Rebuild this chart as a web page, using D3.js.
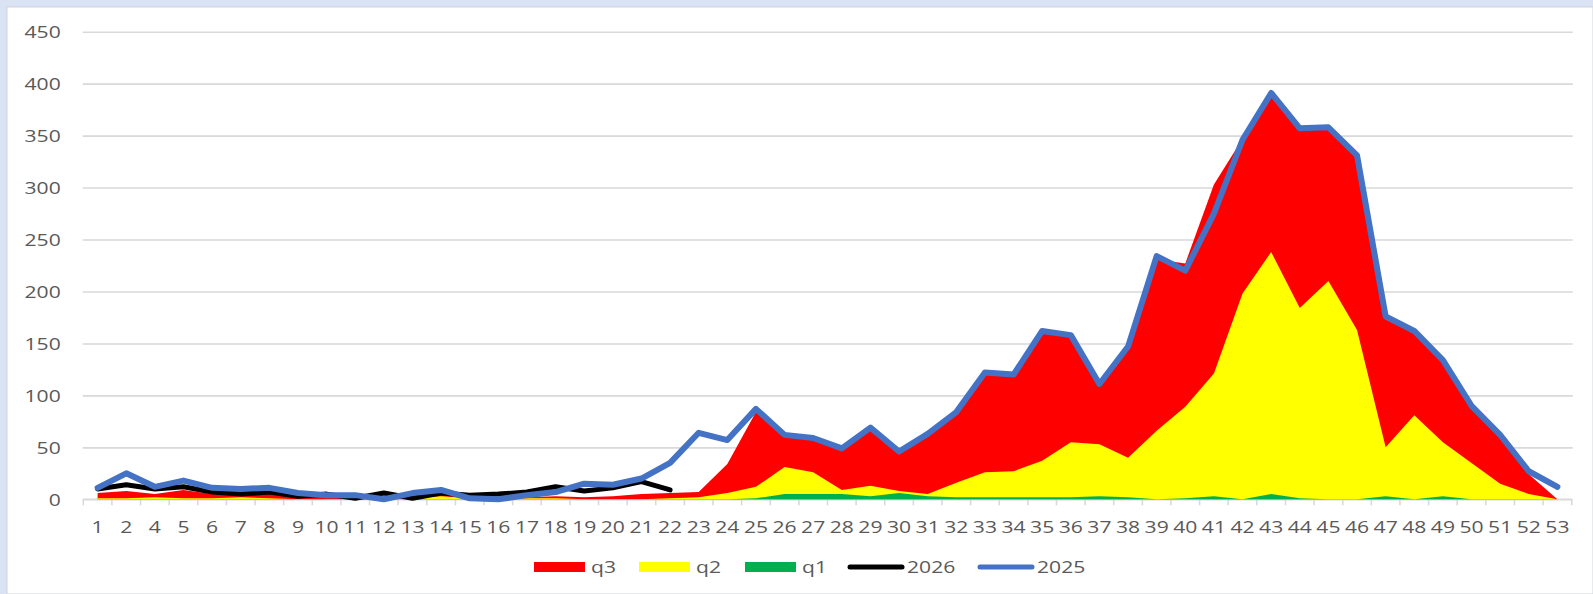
<!DOCTYPE html>
<html>
<head>
<meta charset="UTF-8">
<title>weekly chart</title>
<script src="https://cdnjs.cloudflare.com/ajax/libs/d3/7.8.5/d3.min.js"></script>
<style>
  body { margin: 0; background: #dae3f3; }
  svg { display: block; }
  text { font-family: "Open Sans", sans-serif; fill: #595959; }
</style>
</head>
<body>
<script>
// week labels (3 is missing in the source chart)
var weeks = ["1","2","4","5","6","7","8","9","10","11","12","13","14","15","16","17","18","19","20","21","22","23","24","25","26","27","28","29","30","31","32","33","34","35","36","37","38","39","40","41","42","43","44","45","46","47","48","49","50","51","52","53"];

var q3 = [6,8,5,9,5,8,6,3,3,2,1,3,5,2,2,2,3,2,3,5,6,7,34,84,60,57,47,67,44,62,82,120,118,160,156,109,146,231,227,303,347,388,355,356,328,173,160,131,87,60,24,0];
var q2 = [1,1,2,1,1,2,1,0,0,0,0,1,3,1,0,1,1,0,0,0,1,2,6,12,31,26,9,13,8,5,16,26,27,37,55,53,40,66,89,121,198,238,184,210,163,50,81,55,35,15,5,0];
var q1 = [0,0,0,0,0,0,0,0,0,0,0,0,0,0,0,0,0,0,0,0,0,0,0,1,5,5,5,3,6,3,2,2,2,2,2,3,2,0,1,3,0,5,1,0,0,3,0,3,0,0,0,0];
var y2026 = [10,14,10,12,7,5,7,3,5,1,6,1,6,4,5,7,12,8,11,17,9];
var y2025 = [11,25,12,18,11,10,11,6,4,4,0,6,9,1,0,4,7,15,14,20,35,64,57,87,62,59,49,69,46,63,84,122,120,162,158,111,147,234,220,275,346,391,357,358,331,176,162,134,90,62,27,12];

var yTicks = [0,50,100,150,200,250,300,350,400,450];

var width = 1593, height = 594;
var plotL = 83.3, plotR = 1571.7, plotT = 31.7, plotB = 499.3;
var sx = 1.28; // source text is stretched horizontally

var svg = d3.select("body").append("svg")
    .attr("width", width)
    .attr("height", height);

svg.append("rect")
    .attr("x", 7).attr("y", 7)
    .attr("width", width - 7).attr("height", height - 7)
    .attr("fill", "#fff")
    .attr("stroke", "#d0d4da");

var x = d3.scaleBand().domain(weeks).range([plotL, plotR]);
var y = d3.scaleLinear().domain([0, 450]).range([plotB, plotT]);
var cx = function (i) { return x(weeks[i]) + x.bandwidth() / 2; };

// grid + y labels
var yAxis = svg.append("g")
    .attr("transform", "translate(" + (plotL - 0.6) + ",0)")
    .call(d3.axisLeft(y).tickValues(yTicks).tickSize(-(plotR - plotL + 1.6)).tickFormat(d3.format("d")));
yAxis.select(".domain").remove();
yAxis.selectAll("line").attr("stroke", "#d9d9d9").attr("stroke-width", 1.6);
yAxis.selectAll("text")
    .attr("x", 0).attr("dy", "0.36em")
    .attr("font-size", 16.5)
    .attr("text-anchor", "end")
    .attr("transform", "translate(-22,0) scale(" + sx + ",1)");

// x axis, labels centred in each week band
var xAxis = svg.append("g")
    .attr("transform", "translate(0," + plotB + ")")
    .call(d3.axisBottom(x).tickSize(0));
xAxis.select(".domain").remove();
xAxis.selectAll("text")
    .attr("x", 0).attr("y", 34).attr("dy", 0)
    .attr("font-size", 16.5)
    .attr("transform", "scale(" + sx + ",1)");
svg.append("line")
    .attr("x1", plotL).attr("x2", plotR)
    .attr("y1", plotB).attr("y2", plotB)
    .attr("stroke", "#d9d9d9").attr("stroke-width", 1.6);
svg.append("g").selectAll("line")
    .data(d3.range(weeks.length + 1))
    .enter().append("line")
    .attr("x1", function (k) { return plotL + k * x.step(); })
    .attr("x2", function (k) { return plotL + k * x.step(); })
    .attr("y1", plotB).attr("y2", plotB + 6)
    .attr("stroke", "#d9d9d9").attr("stroke-width", 1.6);

// areas, drawn over each other
var area = d3.area()
    .x(function (d, i) { return cx(i); })
    .y0(y(0))
    .y1(function (d) { return y(d); });

[[q3, "#ff0000"], [q2, "#ffff00"], [q1, "#00b050"]].forEach(function (s) {
    svg.append("path").datum(s[0]).attr("d", area).attr("fill", s[1]);
});

var line = d3.line()
    .x(function (d, i) { return cx(i); })
    .y(function (d) { return y(d); });

svg.append("path").datum(y2026).attr("d", line)
    .attr("fill", "none").attr("stroke", "#000").attr("stroke-width", 5)
    .attr("stroke-linejoin", "round").attr("stroke-linecap", "round");
svg.append("path").datum(y2025).attr("d", line)
    .attr("fill", "none").attr("stroke", "#4472c4").attr("stroke-width", 6)
    .attr("stroke-linejoin", "round").attr("stroke-linecap", "round");

// legend
var legend = [
    {name: "q3", color: "#ff0000", type: "rect", x: 534},
    {name: "q2", color: "#ffff00", type: "rect", x: 639},
    {name: "q1", color: "#00b050", type: "rect", x: 745},
    {name: "2026", color: "#000", type: "line", x: 848},
    {name: "2025", color: "#4472c4", type: "line", x: 978}
];
var lg = svg.append("g").selectAll("g").data(legend).enter().append("g")
    .attr("transform", function (d) { return "translate(" + d.x + ",567)"; });
lg.filter(function (d) { return d.type === "rect"; }).append("rect")
    .attr("x", 0).attr("y", -5).attr("width", 51).attr("height", 10)
    .attr("fill", function (d) { return d.color; });
lg.filter(function (d) { return d.type === "line"; }).append("line")
    .attr("x1", 2).attr("x2", 54).attr("y1", 0).attr("y2", 0)
    .attr("stroke", function (d) { return d.color; })
    .attr("stroke-width", 5).attr("stroke-linecap", "round");
lg.append("text")
    .attr("x", 0).attr("y", 6)
    .attr("font-size", 16.5)
    .attr("transform", function (d) { return "translate(" + (d.type === "rect" ? 57 : 59) + ",0) scale(" + sx + ",1)"; })
    .text(function (d) { return d.name; });
</script>
</body>
</html>
